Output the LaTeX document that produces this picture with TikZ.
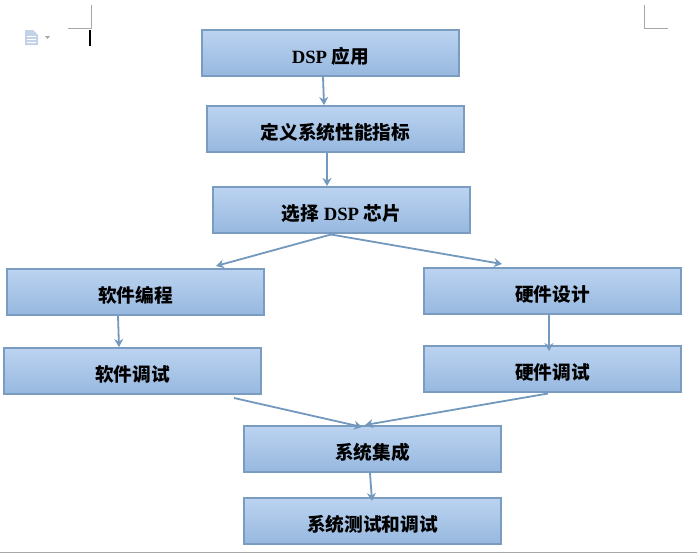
\documentclass[tikz,border=0pt]{standalone}
\usepackage{fontspec}
\setmainfont{Liberation Serif}
\newfontfamily\cjk{Noto Sans CJK SC}
\usetikzlibrary{arrows.meta}
\newcommand{\lat}[1]{{\bfseries #1}}
\newcommand{\han}[1]{{\cjk\bfseries #1}}
\definecolor{boxline}{HTML}{7A9CC0}
\definecolor{boxtop}{HTML}{BBD3F0}
\definecolor{boxbot}{HTML}{97B8DF}
\definecolor{connline}{HTML}{7398BE}
\definecolor{cropgray}{HTML}{A8A8A8}
\definecolor{icon}{HTML}{C3D2E6}
\tikzset{
  stepbox/.style={draw=boxline,line width=2.4pt,top color=boxtop,bottom color=boxbot,
    minimum width=256.6pt,minimum height=45.6pt,inner sep=0pt,
    text height=21pt,text depth=0pt,
    font=\fontsize{18.7pt}{20pt}\selectfont,text=black,anchor=center},
  conn/.style={draw=connline,line width=1.8pt,-{Stealth[length=8pt,width=9pt]}},
  crop/.style={draw=cropgray,line width=1pt},
}
\begin{document}
\begin{tikzpicture}[x=1pt,y=-1pt]
\useasboundingbox (0,0) rectangle (697,554);
\fill[white] (0,0) rectangle (697,554);
% page chrome
\draw[crop] (68,28) -- (91,28) -- (91,5);
\draw[crop] (644,5) -- (644,28) -- (668,28);
\draw[cropgray,line width=1.5pt] (0,552.5) -- (697,552.5);
\fill[black] (89,30) rectangle (91,46);
\fill[icon] (25,30) -- (33,30) -- (38,35) -- (38,45) -- (25,45) -- cycle;
\draw[white,line width=.8pt] (27,36) -- (36,36) (27,39) -- (36,39) (27,42) -- (36,42);
\fill[cropgray] (45,36) -- (50,36) -- (47.5,39) -- cycle;
% boxes
\node[stepbox] (app)   at (330.5,53)  {\lat{DSP} \han{应用}};
\node[stepbox] (spec)  at (335.5,129) {\han{定义系统性能指标}};
\node[stepbox] (chip)  at (341.5,210) {\han{选择} \lat{DSP} \han{芯片}};
\node[stepbox] (swp)   at (135.5,292) {\han{软件编程}};
\node[stepbox] (hwd)   at (552.5,291) {\han{硬件设计}};
\node[stepbox] (swt)   at (132.5,371) {\han{软件调试}};
\node[stepbox] (hwt)   at (552.5,369) {\han{硬件调试}};
\node[stepbox] (integ) at (372.5,449) {\han{系统集成}};
\node[stepbox] (test)  at (372.5,521) {\han{系统测试和调试}};
% connectors
\draw[conn] ([xshift=-7.5pt]app.south) -- ([xshift=-11.5pt]spec.north);
\draw[conn] ([xshift=-8.5pt]spec.south) -- ([xshift=-14.5pt]chip.north);
\draw[conn] ([xshift=-10.5pt,yshift=-0.5pt]chip.south) -- ([xshift=80.5pt,yshift=2pt]swp.north);
\draw[conn] ([xshift=-10.5pt,yshift=-0.5pt]chip.south) -- ([xshift=-50.5pt,yshift=3pt]hwd.north);
\draw[conn] ([xshift=-17.5pt]swp.south) -- ([xshift=-13.5pt]swt.north);
\draw[conn] ([xshift=-3.5pt]hwd.south) -- ([xshift=-3.5pt,yshift=-6pt]hwt.north);
\draw[conn] ([xshift=101.5pt,yshift=-3pt]swt.south) -- ([xshift=-10.5pt,yshift=-2pt]integ.north);
\draw[conn] ([xshift=-4.5pt,yshift=-0.5pt]hwt.south) -- ([xshift=-7.5pt]integ.north);
\draw[conn] ([xshift=-2.5pt]integ.south) -- ([xshift=-0.5pt,yshift=-4pt]test.north);
\end{tikzpicture}
\end{document}
